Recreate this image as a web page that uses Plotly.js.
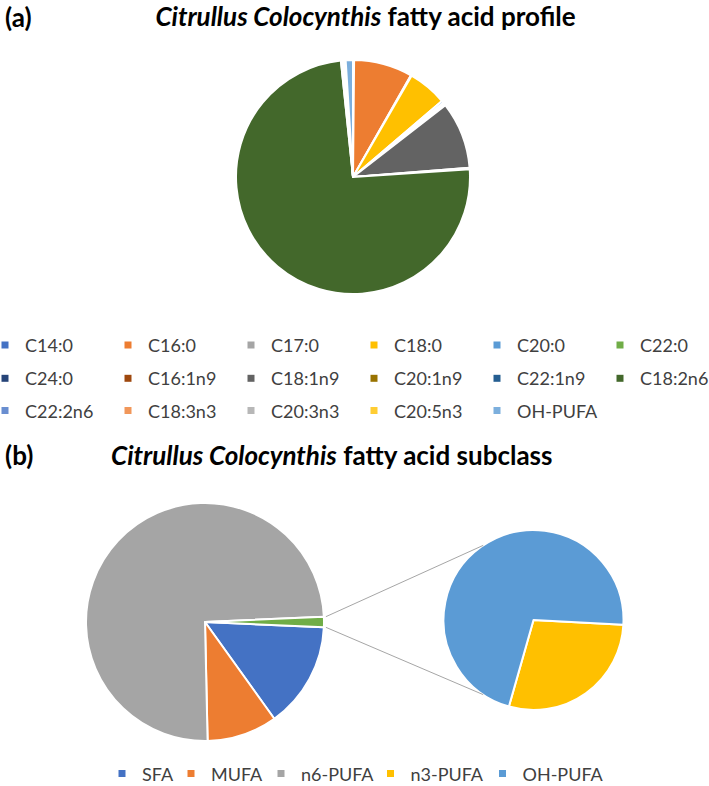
<!DOCTYPE html>
<html><head><meta charset="utf-8">
<script src="https://cdn.plot.ly/plotly-3.0.1.min.js"></script>
<style>html,body{margin:0;padding:0;background:#fff}</style>
</head><body><div id="chart" style="width:709px;height:786px"></div>
<script>
// ---------- data ----------
const acidLabels = ['C14:0','C16:0','C17:0','C18:0','C20:0','C22:0','C24:0',
  'C16:1n9','C18:1n9','C20:1n9','C22:1n9','C18:2n6','C22:2n6',
  'C18:3n3','C20:3n3','C20:5n3','OH-PUFA'];
const acidValues = [0.15, 8.1, 0.1, 5.4, 0.3, 0.2, 0.15,
  0.1, 9.25, 0.15, 0.05, 74.4, 0.25,
  0.2, 0.1, 0.1, 1.0];
const acidColors = ['#4472C4','#ED7D31','#A5A5A5','#FFC000','#5B9BD5','#70AD47','#264478',
  '#9E480E','#636363','#997300','#255E91','#43682B','#698ED0',
  '#F1975A','#B7B7B7','#FFCD33','#7CAFDD'];

const subclassLabels = ['SFA','MUFA','n6-PUFA','n3-PUFA','OH-PUFA'];
const subclassValues = [14.4, 9.55, 74.65, 0.4, 1.0];
const subclassColors = ['#4472C4','#ED7D31','#A5A5A5','#FFC000','#5B9BD5'];
const otherLabel = 'Other';
const otherColor = '#70AD47';

// ---------- layout helpers ----------
const W = 709, H = 786;
const FONT = 'Lato, "Liberation Sans", Arial, sans-serif';
const LEG_SIZE = 18;
const topPie = {cx: 353, cy: 177, r: 117};
const mainPie = {cx: 205, cy: 622, r: 119};
const secPie = {cx: 533.5, cy: 620, r: 90};
function dom(p) {
  return {x: [(p.cx - p.r) / W, (p.cx + p.r) / W], y: [1 - (p.cy + p.r) / H, 1 - (p.cy - p.r) / H]};
}
const px = v => v / W, py = v => 1 - v / H;

// main pie: first three subclasses + grouped "other" (n3 + OH)
const mainLabels = subclassLabels.slice(0, 3).concat([otherLabel]);
const mainValues = subclassValues.slice(0, 3).concat([subclassValues[3] + subclassValues[4]]);
const mainColors = subclassColors.slice(0, 3).concat([otherColor]);
const secLabels = subclassLabels.slice(3);
const secValues = subclassValues.slice(3);
const secColors = subclassColors.slice(3);

const mainTotal = mainValues.reduce((a, b) => a + b, 0);
const otherDeg = mainValues[3] / mainTotal * 360;
const mainRotation = 90 + otherDeg / 2;

const traces = [];
traces.push({
  type: 'pie', labels: acidLabels, values: acidValues, sort: false, direction: 'clockwise', rotation: 0,
  marker: {colors: acidColors, line: {color: '#ffffff', width: 2}},
  textinfo: 'none', hoverinfo: 'label+percent', showlegend: false, domain: dom(topPie)
});
traces.push({
  type: 'pie', labels: mainLabels, values: mainValues, sort: false, direction: 'clockwise', rotation: mainRotation,
  marker: {colors: mainColors, line: {color: '#ffffff', width: 2}},
  textinfo: 'none', hoverinfo: 'label+percent', showlegend: false, domain: dom(mainPie)
});
traces.push({
  type: 'pie', labels: secLabels, values: secValues, sort: false, direction: 'clockwise', rotation: 93,
  marker: {colors: secColors, line: {color: '#ffffff', width: 2}},
  textinfo: 'none', hoverinfo: 'label+percent', showlegend: false, domain: dom(secPie)
});

// legend entries (top: 3 rows of 6 columns)
const colStep = 123;
const ITEM_EXTRA = 30; // text gap (with indentation) + item gap
const rowLegends = ['legend', 'legend2', 'legend3'];
acidLabels.forEach((lab, i) => {
  const col = i % 6;
  traces.push({
    type: 'scatter', mode: 'markers', x: [null], y: [null], name: lab,
    marker: {symbol: 'square', size: 7, color: acidColors[i], line: {width: 0}},
    legend: rowLegends[Math.floor(i / 6)], legendwidth: col < 5 ? colStep - ITEM_EXTRA : 64,
    hoverinfo: 'skip'
  });
});
const bottomSteps = [69, 90, 109.5, 112, 110];
subclassLabels.forEach((lab, i) => {
  traces.push({
    type: 'scatter', mode: 'markers', x: [null], y: [null], name: lab,
    marker: {symbol: 'square', size: 7, color: subclassColors[i], line: {width: 0}},
    legend: 'legend4', legendwidth: bottomSteps[i] - ITEM_EXTRA, hoverinfo: 'skip'
  });
});

// connector lines of the pie-of-pie
function onCircle(p, rad, deg) {
  const a = deg * Math.PI / 180;
  return [p.cx + rad * Math.sin(a), p.cy - rad * Math.cos(a)];
}
const upperStart = onCircle(mainPie, mainPie.r + 2, 90 - otherDeg / 2);
const lowerStart = onCircle(mainPie, mainPie.r + 2, 90 + otherDeg / 2);
const upperEnd = onCircle(secPie, secPie.r, 326);
const lowerEnd = onCircle(secPie, secPie.r, 214);
const lineStyle = {color: '#A6A6A6', width: 1};
const shapes = [
  {type: 'line', xref: 'paper', yref: 'paper', x0: px(upperStart[0]), y0: py(upperStart[1]), x1: px(upperEnd[0]), y1: py(upperEnd[1]), line: lineStyle},
  {type: 'line', xref: 'paper', yref: 'paper', x0: px(lowerStart[0]), y0: py(lowerStart[1]), x1: px(lowerEnd[0]), y1: py(lowerEnd[1]), line: lineStyle}
];

const itemHalf = 5 + (LEG_SIZE * 1.3 + 3) / 2;
function legendRow(centerY, x) {
  return {
    orientation: 'h', x: x, xanchor: 'left', y: py(centerY - itemHalf), yanchor: 'top',
    entrywidthmode: 'pixels', indentation: -15, bgcolor: 'rgba(0,0,0,0)', borderwidth: 0,
    font: {family: FONT, size: LEG_SIZE, color: '#404040'}, itemclick: false, itemdoubleclick: false
  };
}

const titleFont = {family: FONT, size: 26, color: '#000000'};
const layout = {
  width: W, height: H,
  margin: {l: 0, r: 0, t: 0, b: 0, autoexpand: false},
  paper_bgcolor: '#ffffff', plot_bgcolor: '#ffffff',
  showlegend: true,
  title: {text: '<b><i>Citrullus Colocynthis</i> fatty acid profile</b>', font: titleFont,
    x: px(365.5), xanchor: 'center', xref: 'paper', y: py(17), yanchor: 'middle', yref: 'paper'},
  xaxis: {visible: false, fixedrange: true},
  yaxis: {visible: false, fixedrange: true},
  legend: legendRow(345, 0),
  legend2: legendRow(378.3, 0),
  legend3: legendRow(410.5, 0),
  legend4: legendRow(773.5, px(117)),
  shapes: shapes,
  annotations: [
    {text: '<b>(a)</b>', xref: 'paper', yref: 'paper', x: px(3), y: py(17), xanchor: 'left', yanchor: 'middle', showarrow: false, font: titleFont},
    {text: '<b>(b)</b>', xref: 'paper', yref: 'paper', x: px(3), y: py(455), xanchor: 'left', yanchor: 'middle', showarrow: false, font: titleFont},
    {text: '<b><i>Citrullus Colocynthis</i> fatty acid subclass</b>', xref: 'paper', yref: 'paper', x: px(331), y: py(455), xanchor: 'center', yanchor: 'middle', showarrow: false, font: titleFont}
  ]
};

Plotly.newPlot('chart', traces, layout, {displayModeBar: false});
</script>
</body></html>
